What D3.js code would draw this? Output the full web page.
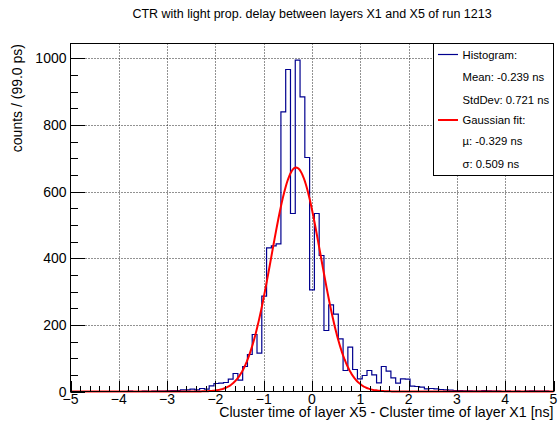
<!DOCTYPE html>
<html><head><meta charset="utf-8">
<script src="https://cdn.jsdelivr.net/npm/d3@7/dist/d3.min.js"></script>
<style>
body{margin:0;background:#fff}
svg{display:block}
text{font-family:"Liberation Sans",Arial,Helvetica,sans-serif;fill:#000}
</style>
</head><body>
<svg id="chart" width="560" height="426"></svg>
<script>
// ---- data ----
const binLow = -5, binHigh = 5;
const counts = [
  0,0,0,0,0,0,0,0,0,0,
  0,0,1,0,0,1,0,1,1,1,
  2,3,3,5,5,7,5,9,7,17,
  24,25,27,37,54,34,75,111,171,115,
  286,431,437,443,839,966,534,994,884,702,
  305,534,408,183,260,232,158,63,133,66,
  38,48,63,50,26,75,61,41,25,38,
  37,16,15,13,8,9,8,6,5,4,
  3,3,2,2,1,1,3,2,1,1,
  0,1,0,1,0,1,2,1,1,1,
  0
];
const xTickValues = [-5,-4,-3,-2,-1,0,1,2,3,4,5];
const yTickValues = [0,200,400,600,800,1000];
const fitMu = -0.329, fitSigma = 0.509, fitAmplitude = 672;
const legendTexts = ["Histogram:","Mean: -0.239 ns","StdDev: 0.721 ns","Gaussian fit:","\u00b5: -0.329 ns","\u03c3: 0.509 ns"];
const titleText = "CTR with light prop. delay between layers X1 and X5 of run 1213";
const xTitle = "Cluster time of layer X5 - Cluster time of layer X1 [ns]";
const yTitle = "counts / (99.0 ps)";
const yMax = 1044;

// ---- layout ----
const L = 70.5, R = 553.5, T = 43.5, B = 391.5;
const svg = d3.select("#chart");
const x = d3.scaleLinear().domain([binLow, binHigh]).range([L, R]);
const y = d3.scaleLinear().domain([0, yMax]).range([B, T]);
const nb = counts.length;
const bw = (binHigh - binLow) / nb;

svg.append("rect").attr("width",560).attr("height",426).attr("fill","#fff");

// grid
const grid = svg.append("g").attr("stroke","#000").attr("stroke-width",1).attr("stroke-dasharray","1,2").attr("opacity",0.85);
xTickValues.filter(v => v > binLow && v < binHigh).forEach(v => {
  const px = Math.round(x(v)) + 0.5;
  grid.append("line").attr("x1",px).attr("x2",px).attr("y1",T).attr("y2",B);
});
yTickValues.filter(v => v > 0).forEach(v => {
  const py = Math.round(y(v)) + 0.5;
  grid.append("line").attr("x1",L).attr("x2",R).attr("y1",py).attr("y2",py);
});

// histogram outline
const pts = [{x: binLow, y: 0}];
counts.forEach((c, i) => pts.push({x: binLow + i * bw, y: c}));
pts.push({x: binHigh, y: counts[nb - 1]});
pts.push({x: binHigh, y: 0});
const stepLine = d3.line().x(d => x(d.x)).y(d => y(d.y)).curve(d3.curveStepAfter);
svg.append("path").attr("d", stepLine(pts)).attr("fill","none")
  .attr("stroke","#00008f").attr("stroke-width",1.2);

// gaussian fit
const fitX = d3.range(0, 401).map(i => binLow + i * (binHigh - binLow) / 400);
const gauss = v => fitAmplitude * Math.exp(-0.5 * Math.pow((v - fitMu) / fitSigma, 2));
svg.append("path")
  .attr("d", d3.line().x(d => x(d)).y(d => y(gauss(d)))(fitX))
  .attr("fill","none").attr("stroke","#ff0000").attr("stroke-width",2);

// frame
svg.append("rect").attr("x",L).attr("y",T).attr("width",R-L).attr("height",B-T)
  .attr("fill","none").attr("stroke","#000").attr("stroke-width",1);

// x ticks (inside)
const ax = svg.append("g").attr("stroke","#000").attr("stroke-width",1);
d3.range(0, 51).forEach(i => {
  const v = binLow + i * 0.2;
  const major = i % 5 === 0;
  const px = Math.round(x(v)) + 0.5;
  ax.append("line").attr("x1",px).attr("x2",px).attr("y1",B).attr("y2",B - (major ? 10.5 : 5.5));
});
// y ticks
d3.range(0, 21).forEach(i => {
  const v = i * 50;
  const major = i % 4 === 0;
  const py = Math.round(y(v)) + 0.5;
  ax.append("line").attr("x1",L).attr("x2",L + (major ? 14.5 : 7.5)).attr("y1",py).attr("y2",py);
});

// tick labels
xTickValues.forEach(v => {
  svg.append("text").attr("x", x(v)).attr("y", 404).attr("text-anchor","middle")
    .attr("font-size", 14).text(v < 0 ? "\u2212" + Math.abs(v) : String(v));
});
yTickValues.forEach(v => {
  svg.append("text").attr("x", 66.5).attr("y", y(v) + 5).attr("text-anchor","end")
    .attr("font-size", 14).text(v);
});

// titles
svg.append("text").attr("x", 312).attr("y", 18).attr("text-anchor","middle").attr("font-size",12.5).text(titleText);
svg.append("text").attr("x", R).attr("y", 417).attr("text-anchor","end").attr("font-size",14.2).text(xTitle);
svg.append("text").attr("transform","translate(22," + 44 + ") rotate(-90)").attr("text-anchor","end").attr("font-size",14).text(yTitle);

// legend
const lg = svg.append("g");
lg.append("rect").attr("x",433.5).attr("y",T).attr("width",R-433.5).attr("height",175.5-T)
  .attr("fill","#fff").attr("stroke","#000").attr("stroke-width",1);
const rowY = [54.5, 77, 99.5, 120, 141, 163.5];
legendTexts.forEach((t, i) => {
  lg.append("text").attr("x", 462.5).attr("y", rowY[i] + 4).attr("font-size", 11.3).text(t);
});
lg.append("line").attr("x1",438).attr("x2",458).attr("y1",rowY[0]).attr("y2",rowY[0]).attr("stroke","#00008f").attr("stroke-width",1.2);
lg.append("line").attr("x1",438).attr("x2",458).attr("y1",rowY[3]).attr("y2",rowY[3]).attr("stroke","#ff0000").attr("stroke-width",2);
</script>
</body></html>
